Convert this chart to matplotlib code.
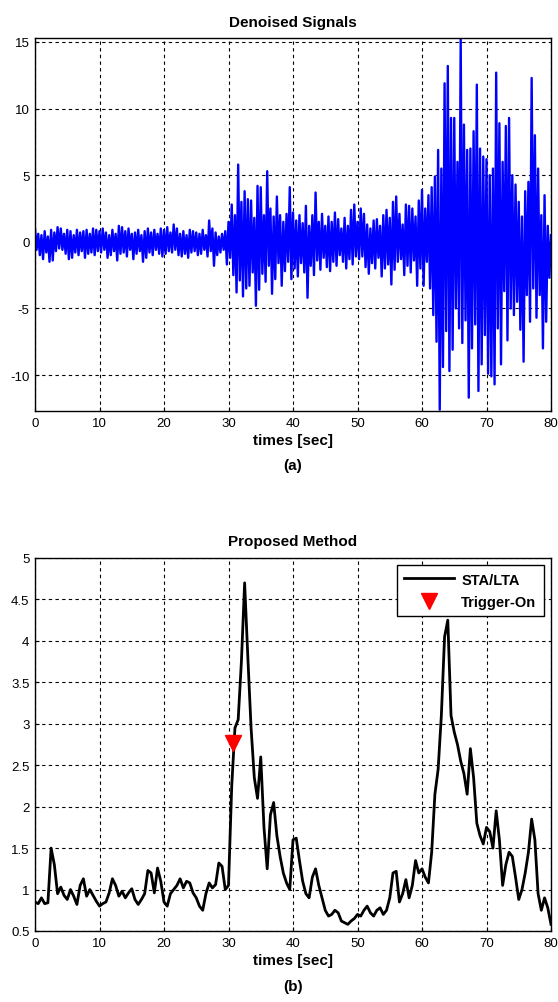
import numpy as np
import matplotlib
matplotlib.use("Agg")
import matplotlib.pyplot as plt

# --- (a) denoised signal: positive swings at t = 0, 0.5, ..., 79.5 s
peaks = [
    1.0, 0.6, 0.5, 0.8, 0.4, 0.9, 0.7, 1.1, 1.0, 0.6, 0.9, 0.8, 0.5, 0.9, 0.7, 0.8, 0.9, 0.6, 1.0, 0.9,
    0.8, 1.0, 0.7, 0.5, 0.9, 0.6, 1.2, 1.1, 0.8, 1.0, 0.6, 0.7, 0.9, 0.5, 0.8, 1.0, 0.7, 0.9, 0.6, 1.0,
    0.9, 1.1, 0.7, 1.3, 1.0, 0.6, 0.8, 0.5, 0.9, 0.8, 0.7, 0.6, 0.9, 0.5, 1.6, 1.0, 0.7, 0.4, 0.6, 0.8,
    1.5, 2.8, 2.0, 5.8, 3.0, 3.8, 3.2, 3.1, 1.8, 4.2, 4.1, 2.0, 5.3, 2.5, 1.9, 3.4, 2.0, 1.5, 2.1, 4.1,
    2.2, 1.6, 2.0, 1.4, 2.7, 1.2, 2.0, 3.7, 1.5, 2.1, 1.2, 1.9, 1.5, 2.2, 1.7, 1.0, 1.8, 1.2, 2.4, 2.8,
    1.5, 2.5, 2.1, 1.3, 1.0, 1.6, 1.7, 1.2, 2.0, 2.4, 1.8, 3.0, 3.4, 2.1, 1.3, 2.8, 2.7, 2.5, 1.9, 3.1,
    3.9, 2.5, 3.5, 4.1, 4.9, 6.9, 5.5, 11.9, 13.2, 9.3, 9.3, 6.0, 15.3, 8.8, 6.9, 7.0, 8.3, 11.8, 7.0, 6.4,
    6.2, 5.0, 5.5, 12.7, 8.9, 6.0, 8.7, 9.3, 5.0, 4.3, 3.0, 1.9, 3.8, 4.5, 12.3, 8.0, 5.5, 2.0, 3.5, 1.2,
]
# negative swings at t = 0.25, 0.75, ..., 79.75 s
troughs = [
    -0.6, -1.0, -1.3, -0.8, -1.5, -1.4, -0.7, -0.5, -0.6, -0.9, -1.3, -1.2, -0.8, -1.0, -0.7, -1.2, -0.9, -0.8, -1.0, -0.7,
    -0.8, -0.6, -1.2, -1.0, -0.7, -1.4, -0.9, -0.8, -1.1, -0.6, -1.3, -0.9, -0.7, -1.5, -1.2, -0.8, -1.0, -0.6, -0.9, -1.1,
    -0.9, -0.7, -0.8, -0.6, -1.0, -1.1, -0.9, -1.2, -0.8, -0.7, -1.0, -0.9, -0.6, -1.1, -0.7, -1.8, -1.0, -0.8, -0.6, -1.7,
    -1.2, -2.5, -3.8, -2.9, -4.1, -3.5, -3.3, -2.3, -4.8, -3.6, -2.4, -3.0, -1.8, -3.9, -2.8, -1.6, -3.3, -2.2, -1.5, -2.8,
    -2.0, -2.6, -1.6, -2.3, -4.2, -1.8, -2.5, -1.4, -2.1, -1.2, -1.9, -2.2, -1.5, -1.8, -1.0, -1.5, -2.0, -1.3, -1.7, -1.1,
    -1.3, -1.1, -1.9, -2.4, -1.6, -2.0, -1.2, -2.6, -2.0, -1.7, -3.2, -2.1, -1.5, -1.3, -2.5, -1.8, -2.3, -1.4, -3.3, -2.0,
    -3.3, -1.5, -3.5, -5.5, -7.5, -12.6, -9.4, -6.7, -9.7, -8.1, -5.0, -6.5, -7.6, -5.9, -11.7, -8.0, -6.2, -11.2, -9.2, -7.0,
    -9.9, -10.1, -10.7, -6.5, -9.2, -3.7, -7.4, -5.0, -5.5, -4.5, -6.6, -9.0, -4.0, -6.0, -3.5, -5.7, -4.0, -8.0, -6.0, -2.7,
]
sig_end = 0.5

# --- (b) STA/LTA ratio at t = 0, 0.5, ..., 80 s
sta_lta = [
    0.85, 0.83, 0.90, 0.83, 0.84, 1.50, 1.30, 0.95, 1.03, 0.93, 0.88, 1.00, 0.92, 0.82, 1.05, 1.13, 0.92, 1.00, 0.93, 0.86,
    0.80, 0.83, 0.85, 0.96, 1.13, 1.05, 0.92, 0.98, 0.90, 0.96, 1.01, 0.88, 0.82, 0.88, 0.95, 1.23, 1.20, 0.96, 1.26, 1.10,
    0.85, 0.80, 0.95, 1.00, 1.05, 1.13, 1.02, 1.10, 1.08, 0.96, 0.90, 0.80, 0.75, 0.95, 1.08, 1.02, 1.06, 1.32, 1.28, 1.00,
    1.05, 2.25, 2.95, 3.05, 3.75, 4.70, 3.80, 2.95, 2.35, 2.10, 2.60, 1.75, 1.25, 1.90, 2.05, 1.65, 1.40, 1.20, 1.08, 1.00,
    1.60, 1.62, 1.35, 1.10, 0.95, 0.90, 1.15, 1.25, 1.05, 0.90, 0.75, 0.68, 0.70, 0.75, 0.72, 0.62, 0.60, 0.58, 0.62, 0.65,
    0.70, 0.68, 0.75, 0.80, 0.72, 0.68, 0.75, 0.78, 0.70, 0.75, 0.90, 1.20, 1.22, 0.85, 0.95, 1.12, 0.90, 1.05, 1.35, 1.20,
    1.25, 1.15, 1.08, 1.45, 2.15, 2.45, 3.10, 4.05, 4.25, 3.10, 2.90, 2.75, 2.55, 2.40, 2.15, 2.70, 2.35, 1.80, 1.65, 1.55,
    1.75, 1.70, 1.50, 1.95, 1.60, 1.05, 1.30, 1.45, 1.40, 1.15, 0.88, 1.00, 1.20, 1.45, 1.85, 1.60, 0.95, 0.75, 0.90, 0.78,
    0.58,
]
trigger_t = [30.7]
trigger_v = [2.77]

W, H = 558, 1003

if __name__ == "__main__":
    plt.rcParams['font.family'] = ['Liberation Sans', 'DejaVu Sans']
    plt.rcParams['axes.unicode_minus'] = False

    sig = np.empty(2 * len(peaks) + 1)
    sig[0:-1:2] = peaks
    sig[1:-1:2] = troughs
    sig[-1] = sig_end
    t_sig = np.arange(len(sig)) * 0.25
    t_ratio = np.arange(len(sta_lta)) * 0.5

    fig = plt.figure(figsize=(W / 100, H / 100), dpi=100)
    ax1 = fig.add_axes([35 / W, 1 - 412 / H, 516 / W, 373 / H])
    ax2 = fig.add_axes([35 / W, 1 - 932 / H, 516 / W, 373 / H])

    ax1.plot(t_sig, sig, color='#0000ff', lw=1.7)
    ax1.set_xlim(0, 80)
    ax1.set_ylim(-12.7, 15.3)
    ax1.set_yticks([-10, -5, 0, 5, 10, 15])
    ax1.set_title('Denoised Signals', fontsize=11, fontweight='bold', pad=9)

    ax2.plot(t_ratio, sta_lta, color='black', lw=2.0, label='STA/LTA')
    ax2.plot(trigger_t, trigger_v, 'v', color='red', markersize=11, label='Trigger-On')
    ax2.set_xlim(0, 80)
    ax2.set_ylim(0.5, 5)
    ax2.set_yticks([0.5, 1, 1.5, 2, 2.5, 3, 3.5, 4, 4.5, 5])
    ax2.set_yticklabels(['0.5', '1', '1.5', '2', '2.5', '3', '3.5', '4', '4.5', '5'])
    ax2.set_title('Proposed Method', fontsize=11, fontweight='bold', pad=9)
    leg = ax2.legend(loc='upper right', fancybox=False, framealpha=1, edgecolor='black',
                     prop={'weight': 'bold', 'size': 10.5}, borderaxespad=0.5,
                     handlelength=3.4, labelspacing=0.55, borderpad=0.5, handletextpad=0.5)
    leg.get_frame().set_linewidth(1.0)

    for ax, tag in ((ax1, '(a)'), (ax2, '(b)')):
        ax.set_xticks(range(0, 81, 10))
        ax.grid(True, color='black', linestyle=(0, (3, 3)), lw=0.8)
        ax.tick_params(direction='in', length=3, labelsize=9.5, pad=4)
        for s in ax.spines.values():
            s.set_linewidth(1.0)
        ax.set_xlabel('times [sec]', fontsize=11, fontweight='bold', labelpad=3)

    fig.text(293 / W, 1 - 466 / H, '(a)', ha='center', va='center', fontsize=11, fontweight='bold')
    fig.text(293 / W, 1 - 987 / H, '(b)', ha='center', va='center', fontsize=11, fontweight='bold')

    plt.savefig('out.png', dpi=100)
